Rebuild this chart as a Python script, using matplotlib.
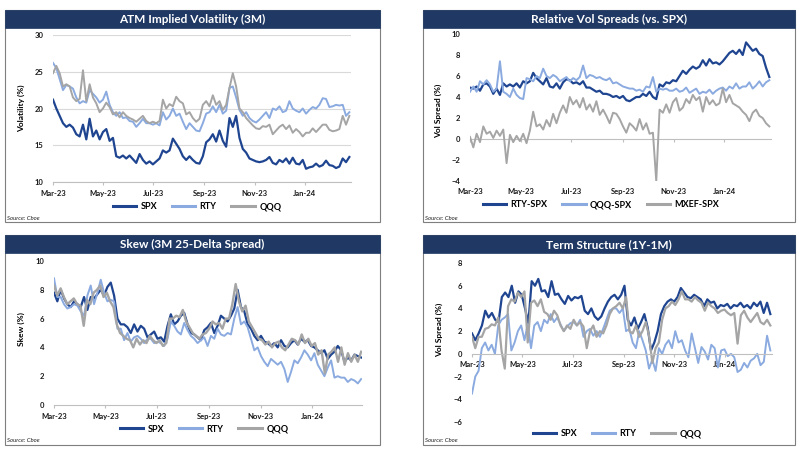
import matplotlib
matplotlib.use("Agg")
import matplotlib.pyplot as plt
import matplotlib.dates as mdates
from matplotlib.patches import Rectangle
from matplotlib.ticker import NullFormatter
import pandas as pd

plt.rcParams['font.family'] = ['Lato', 'DejaVu Sans']

START = "2023-03-01"

# ---------------- Panel 1: ATM Implied Volatility (3M) ----------------
atm_spx = [21.2, 20.0, 19.0, 18.0, 17.5, 17.8, 17.4, 16.5, 16.2, 17.8,
           15.8, 18.6, 16.2, 17.0, 15.8, 16.8, 17.2, 15.6, 16.0, 13.5,
           13.3, 13.6, 13.2, 13.6, 13.1, 12.6, 13.8, 13.0, 12.5, 12.8,
           12.4, 12.8, 13.2, 14.3, 14.0, 14.3, 15.9, 15.2, 14.5, 13.5,
           13.0, 13.5, 13.0, 12.6, 12.5, 13.5, 15.4, 15.8, 16.5, 15.5,
           17.0, 15.6, 14.8, 18.7, 17.5, 19.0, 16.0, 14.5, 14.0, 13.2,
           13.0, 12.8, 12.7, 12.8, 13.0, 13.4, 12.6, 12.4, 13.0, 12.7,
           13.2, 12.5, 13.3, 12.5, 12.4, 13.0, 11.8, 12.0, 12.1, 12.5,
           12.1, 12.3, 12.9, 12.3, 12.2, 11.9, 12.1, 13.2, 12.7, 13.4]
atm_rty = [26.2, 25.5, 24.0, 22.5, 23.2, 23.0, 22.7, 21.5, 20.7, 21.0,
           20.8, 22.5, 22.0, 21.5, 20.8, 21.2, 22.3, 20.5, 19.5, 19.0,
           19.5, 18.7, 18.8, 18.3, 18.2, 17.5, 18.0, 18.6, 18.0, 18.0,
           17.8, 18.0, 17.7, 19.5, 18.5, 19.0, 20.0, 19.0, 19.3, 18.2,
           17.2, 18.0, 17.5, 17.0, 16.9, 18.0, 19.3, 19.5, 20.3, 19.5,
           20.5, 19.3, 19.7, 22.8, 23.0, 21.5, 19.8, 19.0, 19.5, 18.7,
           18.3, 18.1, 18.5, 19.0, 19.5, 18.7, 20.0, 19.8, 20.3, 19.5,
           19.7, 21.0, 20.0, 19.7, 19.5, 20.0, 19.3, 19.8, 20.2, 20.0,
           20.5, 21.4, 21.3, 20.2, 20.3, 20.5, 20.4, 20.5, 19.0, 19.5]
atm_qqq = [24.8, 25.8, 24.8, 23.0, 23.3, 23.0, 21.5, 21.0, 21.3, 25.2,
           21.0, 23.3, 21.5, 20.7, 19.5, 20.0, 20.8, 20.2, 19.2, 19.5,
           18.8, 19.5, 19.0, 18.7, 18.5, 18.2, 18.6, 19.0, 18.3, 18.0,
           18.2, 18.0, 18.3, 21.2, 20.0, 20.6, 20.3, 21.6, 21.0, 20.7,
           19.2, 19.5, 18.7, 18.2, 18.6, 20.5, 21.0, 20.3, 21.8, 20.5,
           21.0, 19.8, 20.5, 22.8, 24.8, 23.0, 20.0, 19.5, 18.7, 18.2,
           17.7, 17.3, 17.2, 17.6, 17.5, 17.8, 16.5, 17.0, 17.5, 17.8,
           17.2, 17.7, 16.7, 17.2, 16.8, 16.2, 16.7, 16.7, 17.3, 16.8,
           17.3, 17.8, 17.8, 17.1, 16.9, 17.0, 17.2, 19.0, 17.8, 19.0]

# ---------------- Panel 2: Relative Vol Spreads (vs. SPX) ----------------
rel_rty = [4.9, 4.8, 5.0, 4.6, 5.2, 5.3, 5.0, 4.3, 4.8, 4.2,
           5.3, 5.0, 5.2, 5.0, 5.3, 4.9, 5.5, 5.3, 5.5, 6.3,
           5.8, 5.5, 5.2, 5.8, 5.0, 4.9, 5.3, 4.8, 5.4, 5.7,
           5.6, 5.3, 5.4, 5.2, 5.5, 4.9, 4.9, 4.7, 4.5, 4.6,
           4.3, 4.3, 4.2, 4.0, 4.1, 3.9, 4.1, 3.7, 3.6, 3.8,
           4.0, 4.0, 4.3, 4.1, 4.5, 4.0, 3.8, 5.2, 5.0, 5.4,
           5.3, 5.6, 5.5, 6.0, 6.5, 6.2, 6.6, 6.9, 6.7, 6.9,
           7.5, 7.0, 7.6, 7.2, 7.3, 7.1, 7.4, 7.8, 8.2, 8.4,
           8.1, 8.5, 8.0, 9.2, 8.8, 8.4, 8.6, 8.1, 7.9, 6.8, 5.9]
rel_qqq = [4.5, 5.0, 4.5, 5.5, 5.2, 5.6, 5.2, 4.5, 4.8, 7.4,
           4.5, 4.3, 4.0, 4.8, 4.2, 3.9, 3.8, 5.8, 5.7, 5.5,
           6.0, 5.8, 6.7, 6.0, 5.8, 6.1, 5.9, 5.5, 5.7, 5.9,
           5.5, 5.8, 5.6, 5.9, 7.0, 5.8, 6.1, 6.0, 5.8, 5.9,
           5.7, 5.6, 5.8, 5.3, 5.4, 5.2, 5.0, 4.9, 4.8, 4.8,
           4.6, 4.7, 4.5, 5.0, 4.9, 5.9, 4.5, 4.8, 4.7, 4.8,
           4.6, 4.6, 4.8, 4.5, 4.6, 4.9, 4.4, 4.6, 4.8, 4.3,
           4.5, 4.4, 4.7, 4.3, 4.6, 4.8, 4.9, 4.6, 5.0, 4.8,
           5.3, 4.8, 5.0, 5.0, 5.4, 4.8, 5.1, 5.5, 5.0, 5.4, 5.6]
rel_mxef = [0.2, -0.8, 0.5, -0.3, 1.2, 0.5, 0.7, 0.1, 0.8, 0.3,
            0.9, -2.3, 0.4, -0.3, 0.3, -0.2, 0.5, -0.4, 0.8, 2.6,
            1.2, 1.4, 0.9, 1.8, 1.2, 2.4, 1.5, 2.5, 3.2, 2.5,
            4.0, 3.3, 3.7, 3.0, 3.9, 2.8, 3.3, 2.6, 3.6, 2.3,
            2.8, 2.2, 1.5, 2.5, 2.4, 1.9, 1.2, 0.6, 1.5, 1.2,
            0.8, 1.9, 0.9, 1.5, 0.5, 0.6, -4.0, 2.8, 2.5, 3.3,
            2.5, 3.5, 3.9, 2.7, 3.0, 3.8, 3.4, 4.2, 3.7, 4.0,
            2.6, 4.0, 3.3, 3.7, 3.2, 3.4, 4.8, 3.5, 4.2, 3.4,
            3.2, 3.0, 2.6, 2.3, 1.7, 2.5, 2.8, 2.2, 2.0, 1.5, 1.2]

# ---------------- Panel 3: Skew (3M 25-Delta Spread) ----------------
skew_spx = [7.8, 7.2, 8.0, 7.4, 7.0, 6.8, 7.2, 7.0, 6.8, 7.5,
            6.6, 7.5, 7.4, 7.7, 8.0, 7.6, 8.2, 8.5, 7.6, 6.0,
            5.6, 5.6, 5.4, 5.0, 5.6, 5.1, 5.5, 5.3, 4.7, 4.9,
            5.1, 4.6, 4.7, 4.4, 5.5, 6.3, 5.6, 5.8, 6.2, 6.4,
            5.6, 5.0, 4.9, 4.7, 4.5, 5.2, 5.4, 5.7, 5.0, 5.5,
            6.2, 6.0, 5.8, 6.2, 6.7, 8.0, 6.8, 6.5, 5.6, 5.3,
            4.8, 4.5, 4.8, 4.4, 4.3, 4.1, 4.3, 4.0, 4.5, 4.1,
            4.0, 4.3, 4.5, 4.2, 4.6, 4.4, 4.5, 4.1, 4.0, 3.8,
            3.6, 3.8, 3.2, 3.5, 3.7, 4.1, 3.8, 3.0, 3.3, 3.1,
            3.5, 3.4, 3.3]
skew_rty = [8.8, 7.5, 7.5, 7.0, 6.7, 6.8, 7.0, 6.9, 6.5, 6.2,
            7.6, 8.3, 7.0, 7.8, 8.7, 7.8, 7.2, 7.3, 7.2, 5.3,
            5.3, 4.5, 5.0, 4.4, 4.7, 4.8, 4.6, 4.3, 4.6, 4.6,
            4.3, 4.4, 4.3, 4.1, 4.6, 5.8, 5.5, 5.1, 4.9, 5.7,
            5.2, 4.8, 4.6, 4.3, 4.5, 4.7, 4.1, 4.8, 4.6, 5.3,
            4.9, 4.8, 5.0, 4.9, 6.0, 6.8, 5.6, 5.8, 5.4, 4.6,
            3.8, 4.0, 3.4, 3.0, 2.7, 3.2, 3.0, 2.8, 3.0, 2.5,
            1.6, 2.3, 3.1, 2.9, 3.3, 3.8, 3.5, 3.1, 3.6, 2.8,
            2.4, 2.0, 2.6, 3.1, 1.9, 2.0, 1.9, 1.9, 1.6, 1.8,
            1.7, 1.5, 1.8]
skew_qqq = [8.3, 7.6, 8.1, 7.5, 7.0, 7.2, 7.4, 7.0, 6.9, 5.5,
            7.3, 7.0, 7.8, 8.0, 8.3, 7.5, 7.8, 7.2, 6.8, 5.6,
            5.0, 4.8, 4.6, 4.5, 4.0, 4.6, 4.2, 4.5, 4.3, 4.8,
            4.5, 4.3, 4.5, 4.1, 4.3, 6.0, 6.0, 6.2, 6.1, 6.6,
            5.8, 5.4, 5.0, 4.8, 4.6, 4.9, 5.0, 5.3, 5.8, 5.6,
            5.7, 5.3, 6.0, 6.0, 7.0, 8.4, 7.2, 6.5, 6.9, 5.8,
            5.4, 5.0, 4.6, 4.5, 4.2, 4.4, 4.0, 4.3, 4.4, 4.0,
            3.8, 4.2, 4.6, 4.5, 4.2, 4.9, 4.3, 4.6, 4.1, 4.3,
            3.5, 3.8, 2.2, 3.5, 3.7, 4.0, 3.0, 4.0, 2.8, 3.6,
            3.0, 3.5, 3.0, 3.7]

# ---------------- Panel 4: Term Structure (1Y-1M) ----------------
ts_spx = [1.8, 1.2, 1.8, 2.5, 3.8, 3.2, 3.6, 3.0, 2.8, 5.0,
          5.4, 5.0, 6.0, 4.5, 5.5, 5.2, 4.0, 2.7, 6.4, 6.0,
          6.6, 5.5, 5.6, 5.0, 6.4, 5.2, 5.3, 4.8, 4.4, 5.1,
          4.7, 5.0, 4.9, 5.1, 3.8, 3.5, 4.0, 3.3, 3.0, 3.3,
          4.0, 4.6, 5.0, 5.2, 4.8, 5.2, 6.0, 3.0, 2.5, 3.2,
          2.2, 2.8, 3.5, 2.3, 0.3, 1.0, 2.0, 3.5, 4.2, 4.6,
          4.8, 4.6, 5.0, 5.8, 5.4, 5.0, 4.9, 5.2, 5.0, 4.8,
          4.2, 4.8, 4.5, 4.6, 4.0, 4.3, 4.2, 4.4, 4.0, 4.3,
          4.2, 4.5, 4.1, 4.3, 4.0, 4.5, 4.2, 4.6, 3.6, 4.5, 3.5]
ts_rty = [-3.5, -2.0, -1.5, 0.5, 1.0, 0.3, 0.8, 0.0, 2.5, 3.0,
          3.2, 3.5, 0.3, 1.0, 2.0, 2.5, 1.2, 2.6, 0.5, 2.5,
          2.8, 2.0, 3.0, 2.7, 3.5, 2.8, 3.2, 2.6, 2.0, 2.4,
          2.7, 2.8, 2.5, 3.0, 1.5, 2.0, 2.2, 1.6, 2.0, 1.5,
          2.2, 3.0, 3.8, 4.0, 4.0, 3.6, 4.0, 2.0, 2.2, 1.0,
          0.5, 2.0, 1.2, 0.3, -1.3, -0.5, -1.5, 0.5, 0.0, 0.8,
          1.2, 0.5, 2.0, 1.0, 1.2, 0.3, -0.3, 1.8, 0.5, -0.8,
          0.6, 0.2, -0.5, 0.8, 0.5, -1.2, 0.3, 0.4, -0.2, 0.0,
          -0.3, -1.6, -1.4, -0.8, -1.2, -0.6, -0.4, 0.0, -1.0, -0.7,
          1.6, 0.3]
ts_qqq = [1.5, 0.5, 1.5, 1.5, 2.2, 2.3, 2.6, 2.5, 3.2, 0.3,
          -1.3, 4.2, 4.8, 4.6, 5.4, 5.0, 5.5, 1.0, 4.5, 4.7,
          4.2, 4.8, 3.7, 3.5, 3.0, 3.8, 3.4, 2.5, 2.0, 2.5,
          2.2, 3.0, 2.5, 2.8, 2.4, 0.5, 2.0, 2.5, 1.5, 2.0,
          1.8, 2.5, 3.5, 4.0, 4.2, 4.5, 4.0, 5.0, 2.0, 1.8,
          2.5, 1.5, 2.0, 2.8, 1.6, -0.8, 0.5, 1.0, 3.0, 4.0,
          4.2, 4.6, 4.3, 4.8, 5.5, 4.8, 4.8, 4.6, 5.0, 4.7,
          4.5, 3.8, 4.5, 4.2, 4.0, 3.6, 3.8, 3.9, 3.6, 3.4,
          3.6, 0.9, 3.4, 3.8, 3.2, 2.8, 3.2, 3.6, 2.8, 2.6,
          3.0, 2.5]

C_DARK = "#1F4591"
C_LIGHT = "#8AAAE0"
C_GRAY = "#A5A5A5"
C_BAR = "#1F3864"

W, H = 800, 450
fig = plt.figure(figsize=(8, 4.5), dpi=100)
fig.patch.set_facecolor("white")


def fx(x):
    return x / W


def fy(y):
    return 1 - y / H


def frame(x0, y0, x1, y1, title):
    fig.add_artist(Rectangle((fx(x0), fy(y1)), fx(x1) - fx(x0), fy(y0) - fy(y1),
                             transform=fig.transFigure, fill=False,
                             edgecolor="#7F7F7F", lw=0.8))
    fig.add_artist(Rectangle((fx(x0), fy(y0 + 18)), fx(x1) - fx(x0), 18 / H,
                             transform=fig.transFigure, facecolor=C_BAR,
                             edgecolor=C_BAR, lw=0.5))
    fig.text(fx((x0 + x1) / 2), fy(y0 + 9.5), title, color="white",
             fontsize=8.5, fontweight="bold", ha="center", va="center")
    fig.text(fx(x0 + 2), fy(y1 - 4), "Source: Cboe", fontsize=4.3,
             style="italic", ha="left", va="center", color="#222222")


def make_axes(x0, y0, x1, y1):
    ax = fig.add_axes([fx(x0), fy(y1), fx(x1) - fx(x0), fy(y0) - fy(y1)])
    for s in ["top", "right", "left"]:
        ax.spines[s].set_visible(False)
    ax.spines["bottom"].set_color("#BFBFBF")
    ax.spines["bottom"].set_linewidth(0.8)
    ax.tick_params(axis="y", length=0, labelsize=5.5, pad=7, labelcolor="#1a1a1a")
    ax.tick_params(axis="x", length=2.5, color="#BFBFBF", labelsize=5.5, pad=3,
                   labelcolor="#1a1a1a")
    ax.xaxis.set_major_locator(mdates.MonthLocator(bymonth=[1, 3, 5, 7, 9, 11]))
    ax.xaxis.set_major_formatter(mdates.DateFormatter("%b-%y"))
    return ax


def plot_series(ax, series, labels, colors, end, lws):
    for vals, lab, col, lw in zip(series, labels, colors, lws):
        dates = pd.date_range(START, end, periods=len(vals))
        ax.plot(dates, vals, color=col, lw=lw, label=lab, solid_joinstyle="round")


def bold_ticks(ax):
    for lab in ax.get_xticklabels() + ax.get_yticklabels():
        lab.set_fontweight("bold")


def add_legend(ax, cx, cy):
    leg = ax.legend(loc="center", bbox_to_anchor=(fx(cx), fy(cy)),
                    bbox_transform=fig.transFigure, ncol=3, frameon=False,
                    handlelength=2.6, columnspacing=1.6, handletextpad=0.5,
                    prop={"weight": "bold", "size": 6.5})
    for line in leg.get_lines():
        line.set_linewidth(2.2)


# ---- Panel 1
frame(5, 10, 380, 222, "ATM Implied Volatility (3M)")
ax1 = make_axes(53, 35, 351, 182)
plot_series(ax1, [atm_spx, atm_rty, atm_qqq], ["SPX", "RTY", "QQQ"],
            [C_DARK, C_LIGHT, C_GRAY], "2024-02-24", [1.6, 1.4, 1.4])
ax1.set_ylim(10, 30)
ax1.set_yticks([10, 15, 20, 25, 30])
ax1.grid(axis="y", color="#D9D9D9", lw=0.8)
ax1.set_axisbelow(True)
ax1.set_xlim(pd.Timestamp(START), pd.Timestamp("2024-02-26"))
ax1.set_ylabel("Volatility (%)", fontsize=6, fontweight="bold")
ax1.yaxis.set_label_coords(-0.094, 0.5)
bold_ticks(ax1)
add_legend(ax1, 197, 207)

# ---- Panel 2
frame(423, 10, 795, 222, "Relative Vol Spreads (vs. SPX)")
ax2 = make_axes(470, 34, 771, 181)
plot_series(ax2, [rel_rty, rel_qqq, rel_mxef], ["RTY-SPX", "QQQ-SPX", "MXEF-SPX"],
            [C_DARK, C_LIGHT, C_GRAY], "2024-02-24", [1.6, 1.4, 1.4])
ax2.set_ylim(-4, 10)
ax2.set_yticks(range(-4, 11, 2))
ax2.set_xlim(pd.Timestamp(START), pd.Timestamp("2024-02-26"))
ax2.spines["bottom"].set_visible(False)
ax2.tick_params(axis="x", length=0, pad=5)
sec = ax2.secondary_xaxis(4 / 14)
sec.xaxis.set_major_locator(mdates.MonthLocator(bymonth=[1, 3, 5, 7, 9, 11]))
sec.xaxis.set_major_formatter(NullFormatter())
sec.spines["bottom"].set_color("#BFBFBF")
sec.spines["bottom"].set_linewidth(0.8)
sec.tick_params(length=2.5, color="#BFBFBF")
ax2.set_ylabel("Vol Spread (%)", fontsize=6, fontweight="bold")
ax2.yaxis.set_label_coords(-0.093, 0.48)
bold_ticks(ax2)
add_legend(ax2, 601, 205)

# ---- Panel 3
frame(5, 235, 380, 445, "Skew (3M 25-Delta Spread)")
ax3 = make_axes(54, 261, 362, 405)
plot_series(ax3, [skew_spx, skew_rty, skew_qqq], ["SPX", "RTY", "QQQ"],
            [C_DARK, C_LIGHT, C_GRAY], "2024-02-28", [1.6, 1.4, 1.7])
ax3.set_ylim(0, 10)
ax3.set_yticks(range(0, 11, 2))
ax3.set_xlim(pd.Timestamp(START), pd.Timestamp("2024-02-29"))
ax3.set_ylabel("Skew (%)", fontsize=6, fontweight="bold")
ax3.yaxis.set_label_coords(-0.094, 0.53)
bold_ticks(ax3)
add_legend(ax3, 204, 429)

# ---- Panel 4
frame(423, 235, 795, 445, "Term Structure (1Y-1M)")
ax4 = make_axes(472, 263, 772, 422)
plot_series(ax4, [ts_spx, ts_rty, ts_qqq], ["SPX", "RTY", "QQQ"],
            [C_DARK, C_LIGHT, C_GRAY], "2024-02-25", [1.6, 1.4, 1.6])
ax4.set_ylim(-6, 8)
ax4.set_yticks(range(-6, 9, 2))
ax4.set_xlim(pd.Timestamp(START), pd.Timestamp("2024-02-27"))
ax4.spines["bottom"].set_position(("data", 0))
ax4.set_ylabel("Vol Spread (%)", fontsize=6, fontweight="bold")
ax4.yaxis.set_label_coords(-0.097, 0.58)
bold_ticks(ax4)
add_legend(ax4, 617, 434)

fig.savefig("out.png", dpi=100)
